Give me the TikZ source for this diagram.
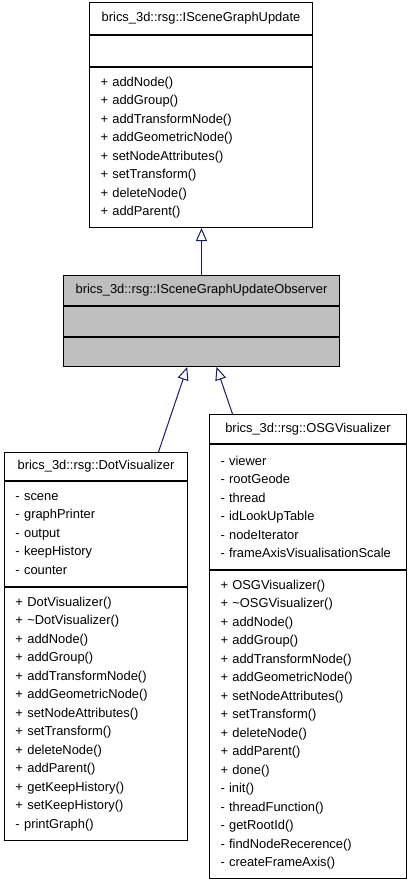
\documentclass[tikz,border=0pt]{standalone}
\usepackage{fontspec}
\setmainfont{Liberation Sans}
\usetikzlibrary{positioning,arrows.meta}
\definecolor{obsgray}{HTML}{BFBFBF}
\definecolor{umlblue}{HTML}{191970}

\begin{document}
\begin{tikzpicture}[x=1pt, y=1pt,
    font=\fontsize{12.9}{18.5}\selectfont,
    umlhead/.style={draw=black, line width=1pt, fill=white, inner sep=0pt, anchor=north west},
    umlpart/.style={draw=black, line width=1pt, fill=white, inner xsep=11pt, inner ysep=0pt, align=left},
    inherit/.style={draw=umlblue, line width=1pt, -{Triangle[open, length=13pt, width=11pt]}}]
      \useasboundingbox (0,0) rectangle (411,-883);

      \node[umlhead, minimum width=223pt, minimum height=32pt] (upd) at (89,-2) {brics\_3d::rsg::ISceneGraphUpdate};
      \node[umlpart, text width=201pt, minimum height=31pt, below=0pt of upd] (updAttr) {};
      \node[umlpart, text width=201pt, minimum height=160pt, below=0pt of updAttr] (updOps) {+ addNode()\\+ addGroup()\\+ addTransformNode()\\+ addGeometricNode()\\+ setNodeAttributes()\\+ setTransform()\\+ deleteNode()\\+ addParent()};

      \node[umlhead, fill=obsgray, minimum width=276pt, minimum height=30pt] (obs) at (63,-275) {brics\_3d::rsg::ISceneGraphUpdateObserver};
      \node[umlpart, fill=obsgray, text width=254pt, minimum height=30pt, below=0pt of obs] (obsAttr) {};
      \node[umlpart, fill=obsgray, text width=254pt, minimum height=29pt, below=0pt of obsAttr] (obsOps) {};

      \node[umlhead, minimum width=183pt, minimum height=28pt] (dot) at (4,-452) {brics\_3d::rsg::DotVisualizer};
      \node[umlpart, text width=161pt, minimum height=105pt, below=0pt of dot] (dotAttr) {- scene\\- graphPrinter\\- output\\- keepHistory\\- counter};
      \node[umlpart, text width=161pt, minimum height=253pt, below=0pt of dotAttr] (dotOps) {+ DotVisualizer()\\+ \textasciitilde DotVisualizer()\\+ addNode()\\+ addGroup()\\+ addTransformNode()\\+ addGeometricNode()\\+ setNodeAttributes()\\+ setTransform()\\+ deleteNode()\\+ addParent()\\+ getKeepHistory()\\+ setKeepHistory()\\- printGraph()};

      \node[umlhead, minimum width=197pt, minimum height=29pt] (osg) at (209,-414) {brics\_3d::rsg::OSGVisualizer};
      \node[umlpart, text width=175pt, minimum height=125pt, below=0pt of osg] (osgAttr) {- viewer\\- rootGeode\\- thread\\- idLookUpTable\\- nodeIterator\\- frameAxisVisualisationScale};
      \node[umlpart, text width=175pt, minimum height=308pt, below=0pt of osgAttr] (osgOps) {+ OSGVisualizer()\\+ \textasciitilde OSGVisualizer()\\+ addNode()\\+ addGroup()\\+ addTransformNode()\\+ addGeometricNode()\\+ setNodeAttributes()\\+ setTransform()\\+ deleteNode()\\+ addParent()\\+ done()\\- init()\\- threadFunction()\\- getRootId()\\- findNodeRecerence()\\- createFrameAxis()};

      \draw[inherit] (obs.north) -- (obs.north |- updOps.south);
      \draw[inherit] ([xshift=62.5pt]dot.north) -- ([xshift=-14.3pt]obsOps.south);
      \draw[inherit] ([xshift=-75.5pt]osg.north) -- ([xshift=15pt]obsOps.south);
\end{tikzpicture}
\end{document}
